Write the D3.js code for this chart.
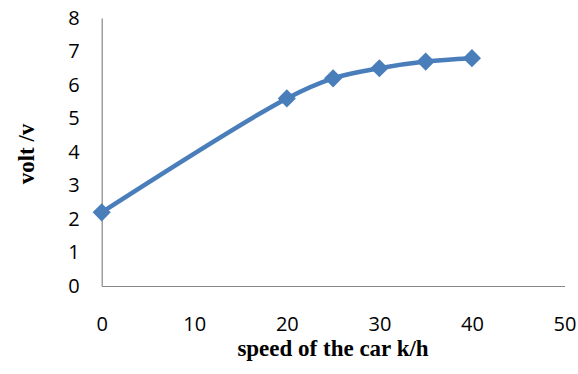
<!DOCTYPE html>
<html><head><meta charset="utf-8">
<script src="https://cdn.jsdelivr.net/npm/d3@7"></script>
<style>body{margin:0;background:#fff}</style>
</head><body>
<svg id="c" width="578" height="374"></svg>
<script>
const speed = [0, 20, 25, 30, 35, 40];
const volt = [2.2, 5.6, 6.2, 6.5, 6.7, 6.8];
const xTicks = [0, 10, 20, 30, 40, 50];
const yTicks = [0, 1, 2, 3, 4, 5, 6, 7, 8];
const xTitle = "speed of the car k/h";
const yTitle = "volt /v";

const svg = d3.select("#c");
const x = d3.scaleLinear().domain([0, 50]).range([101.7, 564.5]);
const y = d3.scaleLinear().domain([0, 8]).range([286, 18]);

const axisColor = "#868686";
const tickFont = "'Open Sans', sans-serif";
const titleFont = "'Liberation Serif', 'Times New Roman', serif";

const gx = svg.append("g").attr("transform", `translate(0,${y(0)})`)
  .call(d3.axisBottom(x).tickValues(xTicks).tickSize(0).tickPadding(31));
gx.select(".domain").attr("stroke", axisColor).attr("stroke-width", 1.2);
gx.selectAll("text").attr("font-family", tickFont).attr("font-size", 20).attr("fill", "#000");

const gy = svg.append("g").attr("transform", `translate(${x(0)},0)`)
  .call(d3.axisLeft(y).tickValues(yTicks).tickSize(0).tickPadding(22));
gy.select(".domain").attr("stroke", axisColor).attr("stroke-width", 1.2);
gy.selectAll("text").attr("font-family", tickFont).attr("font-size", 20).attr("fill", "#000");

svg.append("text").attr("x", 333).attr("y", 356).attr("text-anchor", "middle")
  .attr("font-family", titleFont).attr("font-weight", "bold")
  .attr("font-size", 23).text(xTitle);
svg.append("text").attr("transform", "translate(34,154) rotate(-90)").attr("text-anchor", "middle")
  .attr("font-family", titleFont).attr("font-weight", "bold")
  .attr("font-size", 23).text(yTitle);

const data = speed.map((s, i) => ({s, v: volt[i]}));
const color = "#4a7ebb";
const line = d3.line().x(d => x(d.s)).y(d => y(d.v)).curve(d3.curveCatmullRom.alpha(0.5));
svg.append("path").datum(data).attr("d", line).attr("fill", "none")
  .attr("stroke", color).attr("stroke-width", 4.5).attr("stroke-linejoin", "round");

svg.selectAll(".m").data(data).enter().append("path")
  .attr("transform", d => `translate(${x(d.s)},${y(d.v)}) rotate(45)`)
  .attr("d", d3.symbol().type(d3.symbolSquare).size(165))
  .attr("fill", color);
</script>
</body></html>
